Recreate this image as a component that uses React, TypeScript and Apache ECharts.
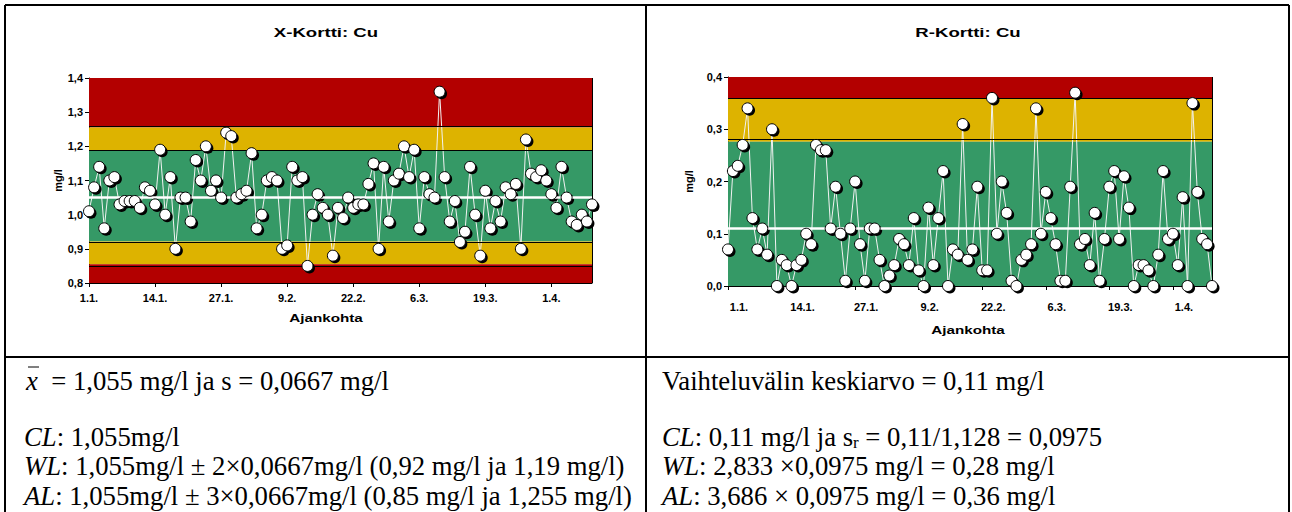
import React, { useEffect, useRef } from 'react';
import * as echarts from 'echarts';

// ---- data ----
const tickLabels = ['1.1.', '14.1.', '27.1.', '9.2.', '22.2.', '6.3.', '19.3.', '1.4.'];
const tickStep = 13;
const lastDay = 99;

const xCardValues = [
  1.01, 1.08, 1.14, 0.96, 1.10, 1.11, 1.03, 1.04, 1.04, 1.04,
  1.02, 1.08, 1.07, 1.03, 1.19, 1.00, 1.11, 0.90, 1.05, 1.05,
  0.98, 1.16, 1.10, 1.20, 1.07, 1.10, 1.05, 1.24, 1.23, 1.05,
  1.06, 1.07, 1.18, 0.96, 1.00, 1.10, 1.11, 1.10, 0.90, 0.91,
  1.14, 1.10, 1.11, 0.85, 1.00, 1.06, 1.02, 1.00, 0.88, 1.02,
  0.99, 1.05, 1.02, 1.03, 1.03, 1.09, 1.15, 0.90, 1.14, 0.98,
  1.10, 1.12, 1.20, 1.11, 1.19, 0.96, 1.11, 1.06, 1.05, 1.36,
  1.11, 0.98, 1.04, 0.92, 0.95, 1.14, 1.00, 0.88, 1.07, 0.96,
  1.04, 0.98, 1.08, 1.06, 1.09, 0.90, 1.22, 1.12, 1.11, 1.13,
  1.10, 1.06, 1.02, 1.14, 1.05, 0.98, 0.97, 1.00, 0.98, 1.03,
];

const rCardValues = [
  0.07, 0.22, 0.23, 0.27, 0.34, 0.13, 0.07, 0.11, 0.06, 0.30,
  0.00, 0.05, 0.04, 0.00, 0.04, 0.05, 0.10, 0.08, 0.27, 0.26,
  0.26, 0.11, 0.19, 0.10, 0.01, 0.11, 0.20, 0.08, 0.01, 0.11,
  0.11, 0.05, 0.00, 0.02, 0.04, 0.09, 0.08, 0.04, 0.13, 0.03,
  0.00, 0.15, 0.04, 0.13, 0.22, 0.00, 0.07, 0.06, 0.31, 0.05,
  0.07, 0.19, 0.03, 0.03, 0.36, 0.10, 0.20, 0.14, 0.01, 0.00,
  0.05, 0.06, 0.08, 0.34, 0.10, 0.18, 0.13, 0.08, 0.01, 0.01,
  0.19, 0.37, 0.08, 0.09, 0.04, 0.14, 0.01, 0.09, 0.19, 0.22,
  0.09, 0.21, 0.15, 0.00, 0.04, 0.04, 0.03, 0.00, 0.06, 0.22,
  0.09, 0.10, 0.04, 0.17, 0.00, 0.35, 0.18, 0.09, 0.08, 0.00,
];

const xMean = 1.055;
const xSd = 0.0667;
const xAxisRange = [0.8, 1.4];
const rMean = 0.11;
const rWarn = 0.276;
const rAlarm = 0.359;
const rAxisRange = [0, 0.4];

const RED = '#B30000';
const YELLOW = '#DDB300';
const GREEN = '#359966';

const LABEL_FONT = 'Liberation Sans, Arial, sans-serif';
const TEXT_FONT = 'Liberation Serif, Times New Roman, serif';
const TEXT_SIZE = 26.7;

function comma(v: number) {
  return v.toFixed(1).replace('.', ',');
}

function buildAxes(idx: number, range: number[], labelMargin: number, nameGapY: number, labelPadLeft: number) {
  const xAxis = {
    type: 'value',
    gridIndex: idx,
    min: 0,
    max: lastDay,
    interval: tickStep,
    axisLine: { show: true, lineStyle: { color: '#000', width: 1 } },
    axisTick: { show: true, length: 4, lineStyle: { color: '#000' } },
    splitLine: { show: false },
    axisLabel: {
      formatter: (v: number) => (v % tickStep === 0 && tickLabels[v / tickStep]) || '',
      fontFamily: LABEL_FONT,
      fontWeight: 'bold',
      fontSize: 11,
      color: '#000',
      margin: labelMargin,
      padding: [0, 0, 0, labelPadLeft],
      showMaxLabel: false,
    },
  };
  const yAxis = {
    type: 'value',
    gridIndex: idx,
    min: range[0],
    max: range[1],
    interval: 0.1,
    axisLine: { show: true, lineStyle: { color: '#000', width: 1 } },
    axisTick: { show: true, length: 4, lineStyle: { color: '#000' } },
    splitLine: { show: false },
    axisLabel: {
      formatter: (v: number) => comma(v),
      fontFamily: LABEL_FONT,
      fontWeight: 'bold',
      fontSize: 11,
      color: '#000',
      margin: 6,
    },
    name: 'mg/l',
    nameLocation: 'middle',
    nameGap: nameGapY,
    nameRotate: 90,
    nameTextStyle: { fontFamily: LABEL_FONT, fontWeight: 'bold', fontSize: 11, color: '#000' },
  };
  return { xAxis, yAxis };
}

function buildSeries(idx: number, values: number[], bands: any[], bounds: number[], mean: number) {
  const pts = values.map((v, i) => [i, v]);
  const common = { xAxisIndex: idx, yAxisIndex: idx, silent: true };
  return [
    {
      ...common,
      type: 'line',
      data: pts,
      showSymbol: false,
      lineStyle: { opacity: 0 },
      z: 1,
      markArea: { silent: true, data: bands },
    },
    {
      ...common,
      type: 'line',
      data: pts,
      showSymbol: false,
      lineStyle: { opacity: 0 },
      z: 2,
      markLine: {
        silent: true,
        symbol: ['none', 'none'],
        label: { show: false },
        data: [
          ...bounds.map((b) => ({ yAxis: b, lineStyle: { color: '#000', width: 1, type: 'solid' } })),
          { xAxis: lastDay, lineStyle: { color: '#000', width: 1, type: 'solid' } },
          { yAxis: mean, lineStyle: { color: '#fff', width: 2.5, type: 'solid' } },
        ],
      },
    },
    {
      ...common,
      type: 'line',
      data: pts,
      showSymbol: false,
      lineStyle: { color: '#f2f2f2', width: 1 },
      z: 3,
    },
    {
      ...common,
      type: 'scatter',
      data: pts,
      symbol: 'circle',
      symbolSize: 11,
      symbolOffset: [2, 2],
      itemStyle: { color: '#000', opacity: 1 },
      z: 4,
    },
    {
      ...common,
      type: 'scatter',
      data: pts,
      symbol: 'circle',
      symbolSize: 11,
      itemStyle: { color: '#fff', borderColor: '#000', borderWidth: 1, opacity: 1 },
      z: 5,
    },
  ];
}

function textEl(x: number, y: number, text: string) {
  return {
    type: 'text',
    x,
    y,
    z: 100,
    style: {
      text,
      fill: '#000',
      fontFamily: TEXT_FONT,
      fontSize: TEXT_SIZE,
      verticalAlign: 'middle',
      align: 'left',
      rich: {
        i: { fontStyle: 'italic', fontFamily: TEXT_FONT, fontSize: TEXT_SIZE, fill: '#000' },
        sub: { fontFamily: TEXT_FONT, fontSize: 17, fill: '#000', verticalAlign: 'bottom', lineHeight: 14 },
      },
    },
  };
}

function stretchedLabel(x: number, y: number, text: string, size: number, sx: number) {
  return {
    type: 'text',
    x,
    y,
    z: 100,
    scaleX: sx,
    style: {
      text,
      fill: '#000',
      fontFamily: LABEL_FONT,
      fontWeight: 'bold',
      fontSize: size,
      align: 'center',
      verticalAlign: 'middle',
    },
  };
}

function lineEl(x1: number, y1: number, x2: number, y2: number, w = 2) {
  return {
    type: 'line',
    z: 100,
    shape: { x1, y1, x2, y2 },
    style: { stroke: '#000', lineWidth: w },
  };
}

export default function App() {
  const ref = useRef<HTMLDivElement>(null);

  useEffect(() => {
    if (!ref.current) return;
    const chart = echarts.init(ref.current, null, { renderer: 'svg' });

    const xWlLo = xMean - 2 * xSd;
    const xWlHi = xMean + 2 * xSd;
    const xAlLo = xMean - 3 * xSd;
    const xAlHi = xMean + 3 * xSd;

    const left = buildAxes(0, xAxisRange, 9, 25, 0);
    const right = buildAxes(1, rAxisRange, 15, 34, 22);

    const xBands = [
      [{ yAxis: xAlHi, itemStyle: { color: RED } }, { yAxis: xAxisRange[1] }],
      [{ yAxis: xWlHi, itemStyle: { color: YELLOW } }, { yAxis: xAlHi }],
      [{ yAxis: xWlLo, itemStyle: { color: GREEN } }, { yAxis: xWlHi }],
      [{ yAxis: xAlLo, itemStyle: { color: YELLOW } }, { yAxis: xWlLo }],
      [{ yAxis: xAxisRange[0], itemStyle: { color: RED } }, { yAxis: xAlLo }],
    ];
    const rBands = [
      [{ yAxis: rAlarm, itemStyle: { color: RED } }, { yAxis: rAxisRange[1] }],
      [{ yAxis: rWarn, itemStyle: { color: YELLOW } }, { yAxis: rAlarm }],
      [{ yAxis: rAxisRange[0], itemStyle: { color: GREEN } }, { yAxis: rWarn }],
    ];

    const option: any = {
      animation: false,
      backgroundColor: '#fff',
      grid: [
        { left: 89, top: 78, width: 503, height: 205, containLabel: false },
        { left: 728, top: 77, width: 484, height: 209, containLabel: false },
      ],
      xAxis: [left.xAxis, right.xAxis],
      yAxis: [left.yAxis, right.yAxis],
      series: [
        ...buildSeries(0, xCardValues, xBands, [xAlHi, xWlHi, xWlLo, xAlLo], xMean),
        ...buildSeries(1, rCardValues, rBands, [rAlarm, rWarn], rMean),
      ],
      graphic: [
        // table borders
        lineEl(5, 5, 1289, 5),
        lineEl(5, 5, 5, 512),
        lineEl(1289, 5, 1289, 512),
        lineEl(646, 5, 646, 512),
        lineEl(5, 357, 1289, 357),
        // titles and x-axis names
        stretchedLabel(326, 33, 'X-Kortti: Cu', 12, 1.55),
        stretchedLabel(968, 33, 'R-Kortti: Cu', 12, 1.55),
        stretchedLabel(326, 318, 'Ajankohta', 10.5, 1.45),
        stretchedLabel(968, 330, 'Ajankohta', 10.5, 1.45),
        // left statistics
        textEl(26, 381, '{i|x}  = 1,055 mg/l ja s = 0,0667 mg/l'),
        lineEl(28, 367, 39, 367, 1),
        textEl(24, 437, '{i|CL}: 1,055mg/l'),
        textEl(24, 466, '{i|WL}: 1,055mg/l ± 2×0,0667mg/l (0,92 mg/l ja 1,19 mg/l)'),
        textEl(24, 496, '{i|AL}: 1,055mg/l ± 3×0,0667mg/l (0,85 mg/l ja 1,255 mg/l)'),
        // right statistics
        textEl(662, 381, 'Vaihteluvälin keskiarvo = 0,11 mg/l'),
        textEl(662, 437, '{i|CL}: 0,11 mg/l ja s{sub|r} = 0,11/1,128 = 0,0975'),
        textEl(662, 466, '{i|WL}: 2,833 ×0,0975 mg/l = 0,28 mg/l'),
        textEl(662, 496, '{i|AL}: 3,686 × 0,0975 mg/l = 0,36 mg/l'),
      ],
    };

    chart.setOption(option);
    return () => chart.dispose();
  }, []);

  return (
    <div
      ref={ref}
      style={{ position: 'absolute', left: 0, top: 0, width: 1292, height: 512, background: '#fff' }}
    />
  );
}
